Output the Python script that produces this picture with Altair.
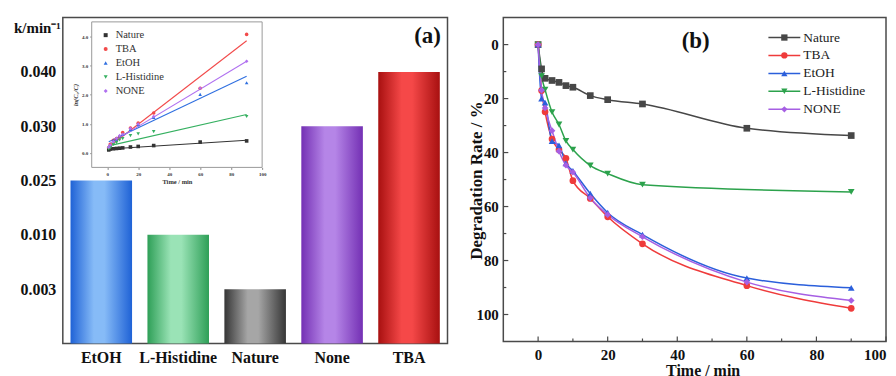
import altair as alt
import pandas as pd

# ---------------- data ----------------
bar_cats = ["EtOH", "L-Histidine", "Nature", "None", "TBA"]
bar_k = [0.025, 0.010, 0.003, 0.030, 0.040]
k_tick_values = [0.003, 0.010, 0.025, 0.030, 0.040]
k_domain = [0.0, 0.003, 0.010, 0.025, 0.030, 0.040, 0.050]

series = ["Nature", "TBA", "EtOH", "L-Histidine", "NONE"]
times = [0, 1, 2, 4, 6, 8, 10, 15, 20, 30, 60, 90]
deg_nature = [0, 9, 12.5, 13.3, 14, 15.2, 15.8, 18.9, 20.4, 22, 31, 33.7]
deg_tba = [0, 17, 24.9, 35, 39, 42.1, 50.4, 57, 63.8, 73.8, 89.3, 97.7]
deg_etoh = [0, 20, 21.5, 35.8, 37.3, 44, 46.8, 55.2, 62.3, 70.4, 86.5, 90.1]
deg_lhis = [0, 11.7, 16.7, 25, 29.6, 35.7, 38.9, 44.8, 47.8, 51.9, None, 54.6]
deg_none = [0, 16.9, 23.5, 31.9, 39.5, 44.7, 47.3, 56.8, 63, 71.2, 88, 94.8]

inset_times = [1, 2, 4, 6, 8, 10, 15, 20, 30, 60, 90]
ln_nature = [0.10, 0.13, 0.14, 0.15, 0.16, 0.17, 0.20, 0.22, 0.25, 0.37, 0.41]
ln_tba = [0.18, 0.29, 0.43, 0.49, 0.55, 0.70, 0.85, 1.02, 1.37, 2.22, 4.07]
ln_etoh = [0.22, 0.25, 0.44, 0.47, 0.58, 0.63, 0.80, 0.97, 1.22, 2.01, 2.41]
ln_lhis = [0.13, 0.18, 0.29, 0.35, 0.44, 0.49, 0.59, 0.65, 0.73, None, 1.25]
ln_none = [0.19, 0.27, 0.38, 0.50, 0.59, 0.64, 0.84, 0.99, 1.25, 2.22, 3.15]

fit_t = [1, 90]
fit_nature = [0.13, 0.43]
fit_tba = [0.20, 3.85]
fit_etoh = [0.38, 2.63]
fit_lhis = [0.24, 1.32]
fit_none = [0.30, 3.15]

x_major = [0, 20, 40, 60, 80, 100]
x_minor = [10, 30, 50, 70, 90]
y_major = [0, 20, 40, 60, 80, 100]
y_minor = [10, 30, 50, 70, 90]

# ---------------- styles ----------------
FONT = "Liberation Serif"
FRAME = "#4a4a4a"
shapes = ["square", "circle", "triangle-up", "triangle-down", "diamond"]
colors_b = ["#474747", "#ef3b3b", "#2b5fdb", "#2ca24c", "#a65fe3"]
colors_in = ["#333333", "#f24a4a", "#2f6fe0", "#35b060", "#b070f0"]
bar_grad = {
    "EtOH": ("#1f62d6", "#86bbf7"),
    "L-Histidine": ("#2e9f57", "#9ae3b6"),
    "Nature": ("#363636", "#a6a6a6"),
    "None": ("#7430b4", "#b585e7"),
    "TBA": ("#a81010", "#f54848"),
}

W_A, H_A = 386, 327
W_B, H_B = 384, 325


def long_df(xs, ys_list, xname, yname, sname):
    rows = []
    for s, ys in zip(series, ys_list):
        for x, y in zip(xs, ys):
            if y is not None:
                rows.append({sname: s, xname: x, yname: y})
    return pd.DataFrame(rows)


def grad(dark, light):
    return alt.LinearGradient(
        gradient="linear", x1=0, x2=1, y1=0, y2=0,
        stops=[
            alt.GradientStop(color=dark, offset=0),
            alt.GradientStop(color=light, offset=0.38),
            alt.GradientStop(color=light, offset=0.55),
            alt.GradientStop(color=dark, offset=1),
        ],
    )


def legend_layer(field, colors, y0, dy, x_mark, x_text, msize, fsize, x_line=None, tcolor="#222"):
    df = pd.DataFrame({field: series})
    yenc = alt.Y(f"{field}:N", scale=alt.Scale(type="point", domain=series,
                 range=[y0, y0 + dy * (len(series) - 1)], padding=0), axis=None)
    col = alt.Color(f"{field}:N", scale=alt.Scale(domain=series, range=colors), legend=None)
    shp = alt.Shape(f"{field}:N", scale=alt.Scale(domain=series, range=shapes), legend=None)
    layers = []
    if x_line is not None:
        layers.append(alt.Chart(df).mark_rule(strokeWidth=1.5).encode(
            x=alt.value(x_line[0]), x2=alt.value(x_line[1]), y=yenc, color=col))
    layers.append(alt.Chart(df).mark_point(filled=True, opacity=1, size=msize).encode(
        x=alt.value(x_mark), y=yenc, color=col, shape=shp))
    layers.append(alt.Chart(df).mark_text(align="left", baseline="middle", fontSize=fsize,
                                          font=FONT, color=tcolor).encode(
        x=alt.value(x_text), y=yenc, text=f"{field}:N"))
    return alt.layer(*layers)


# ---------------- panel (a) ----------------
bars_df = pd.DataFrame({"cat": bar_cats, "k": bar_k})
step = H_A / 6
k_range = [H_A - i * step for i in range(7)]
xband = alt.Scale(domain=bar_cats, paddingInner=0.2, paddingOuter=0.1)
yk = alt.Scale(domain=k_domain, range=k_range, zero=False, nice=False)
x_axis_a = alt.Axis(title=None, labelFontSize=16, labelPadding=6, ticks=False, domain=False,
                    labelAngle=0, orient="bottom")
y_axis_a = alt.Axis(title="k/min⁻¹", values=k_tick_values, format=".3f", labelFontSize=16,
                    labelPadding=7, ticks=False, domain=False, titleAngle=0, titleX=-26,
                    titleY=10, titleAlign="center", titleBaseline="middle", titleFontSize=15,
                    orient="left")

bar_layers = []
for c in bar_cats:
    dark, light = bar_grad[c]
    bar_layers.append(
        alt.Chart(bars_df).transform_filter(alt.datum.cat == c)
        .mark_bar(fill=grad(dark, light), stroke=None)
        .encode(x=alt.X("cat:N", scale=xband, axis=x_axis_a),
                y=alt.Y("k:Q", scale=yk, axis=y_axis_a))
    )
label_a = alt.Chart(pd.DataFrame({"t": ["(a)"]})).mark_text(
    fontSize=23, fontWeight="bold", font=FONT, color="#111", baseline="middle"
).encode(x=alt.value(366), y=alt.value(18), text="t:N")
bars_part = alt.layer(*bar_layers, label_a)

# inset
ix = alt.Scale(domain=[-10, 100], range=[29, 200], nice=False, zero=False)
iy = alt.Scale(domain=[-0.5, 4.5], range=[150.3, 4.3], nice=False, zero=False)
ix_axis = alt.Axis(title="Time / min", values=[0, 20, 40, 60, 80, 100], labelFontSize=5,
                   titleFontSize=6.5, tickSize=2, domain=False, offset=-(H_A - 150.3),
                   orient="bottom", labelPadding=2, titlePadding=2, labelColor="#333",
                   titleColor="#333", labelFlush=False)
iy_axis = alt.Axis(title="ln(C₀/C)", values=[0, 1, 2, 3, 4], labelFontSize=5,
                   titleFontSize=6.5, tickSize=2, domain=False, offset=-29, orient="left",
                   labelPadding=2, titlePadding=3, labelColor="#333", titleColor="#333",
                   titleFontStyle="italic")
frame_df = pd.DataFrame({"x0": [-10], "x1": [100], "y0": [-0.5], "y1": [4.5]})
inset_frame = alt.Chart(frame_df).mark_rect(fill="white", stroke="#9a9a9a", strokeWidth=1).encode(
    x=alt.X("x0:Q", scale=ix, axis=ix_axis), x2="x1:Q",
    y=alt.Y("y0:Q", scale=iy, axis=iy_axis), y2="y1:Q")
fit_df = long_df(fit_t, [fit_nature, fit_tba, fit_etoh, fit_lhis, fit_none], "ft", "fv", "sin")
ln_df = long_df(inset_times, [ln_nature, ln_tba, ln_etoh, ln_lhis, ln_none], "ft", "fv", "sin")
col_in = alt.Color("sin:N", scale=alt.Scale(domain=series, range=colors_in), legend=None)
inset_lines = alt.Chart(fit_df).mark_line(strokeWidth=1.1).encode(
    x=alt.X("ft:Q", scale=ix), y=alt.Y("fv:Q", scale=iy), color=col_in, detail="sin:N")
inset_pts = alt.Chart(ln_df).mark_point(filled=True, opacity=1, size=13).encode(
    x=alt.X("ft:Q", scale=ix), y=alt.Y("fv:Q", scale=iy), color=col_in,
    shape=alt.Shape("sin:N", scale=alt.Scale(domain=series, range=shapes), legend=None))
inset = alt.layer(inset_frame, inset_lines, inset_pts)
inset_leg = legend_layer("sin", colors_in, 17.6, 14, 43, 53, 16, 10.5, tcolor="#333")

panel_a = alt.layer(bars_part, inset, inset_leg).resolve_scale(
    x="independent", y="independent", color="independent", shape="independent"
).properties(width=W_A, height=H_A)

# ---------------- panel (b) ----------------
deg_df = long_df(times, [deg_nature, deg_tba, deg_etoh, deg_lhis, deg_none], "t", "D", "s")
xs_b = alt.Scale(domain=[-10, 100], nice=False, zero=False)
ys_b = alt.Scale(domain=[-10, 110], reverse=True, nice=False, zero=False)
col_b = alt.Color("s:N", scale=alt.Scale(domain=series, range=colors_b), legend=None)
x_axis_b = alt.Axis(title="Time / min", values=x_major, labelFontSize=15, labelPadding=6,
                    ticks=False, domain=False, titleFontSize=16, titlePadding=0, titleX=200,
                    labelFlush=True)
y_axis_b = alt.Axis(title="Degradation Rate / %", values=y_major, labelFontSize=15,
                    labelPadding=5, ticks=False, domain=False, titleFontSize=17,
                    titleX=-27, titleY=163, titleBaseline="middle", titleAlign="center")
lines_b = alt.Chart(deg_df).mark_line(strokeWidth=1.5, interpolate="monotone").encode(
    x=alt.X("t:Q", scale=xs_b, axis=x_axis_b), y=alt.Y("D:Q", scale=ys_b, axis=y_axis_b),
    color=col_b, detail="s:N")
pts_b = alt.Chart(deg_df).mark_point(filled=True, opacity=1, size=45).encode(
    x=alt.X("t:Q", scale=xs_b), y=alt.Y("D:Q", scale=ys_b), color=col_b,
    shape=alt.Shape("s:N", scale=alt.Scale(domain=series, range=shapes), legend=None))


def xticks(vals, length):
    return alt.Chart(pd.DataFrame({"tx": vals})).mark_rule(color=FRAME, strokeWidth=1.2).encode(
        x=alt.X("tx:Q", scale=xs_b), y=alt.value(H_B), y2=alt.value(H_B - length))


def yticks(vals, length):
    return alt.Chart(pd.DataFrame({"ty": vals})).mark_rule(color=FRAME, strokeWidth=1.2).encode(
        y=alt.Y("ty:Q", scale=ys_b), x=alt.value(0), x2=alt.value(length))


label_b = alt.Chart(pd.DataFrame({"t": ["(b)"]})).mark_text(
    fontSize=23, fontWeight="bold", font=FONT, color="#111", baseline="middle"
).encode(x=alt.value(193), y=alt.value(24), text="t:N")

main_b = alt.layer(xticks(x_major, 5), xticks(x_minor, 3), yticks(y_major, 5),
                   yticks(y_minor, 3), lines_b, pts_b, label_b)
leg_b = legend_layer("s", colors_b, 20, 18, 282, 301, 40, 13.5, x_line=(266, 298))
panel_b = alt.layer(main_b, leg_b).resolve_scale(y="independent").properties(
    width=W_B, height=H_B)

chart = alt.hconcat(panel_a, panel_b, spacing=18).resolve_scale(
    color="independent", shape="independent"
).properties(
    padding={"left": 4, "top": 8, "right": 0, "bottom": 0}
).configure(font=FONT).configure_view(
    stroke=FRAME, strokeWidth=1.5
).configure_axis(
    grid=False, labelFontWeight="bold", titleFontWeight="bold", labelColor="#111",
    titleColor="#111", labelFont=FONT, titleFont=FONT
)

chart.save("out.html", embed_options={"renderer": "svg", "actions": False})
